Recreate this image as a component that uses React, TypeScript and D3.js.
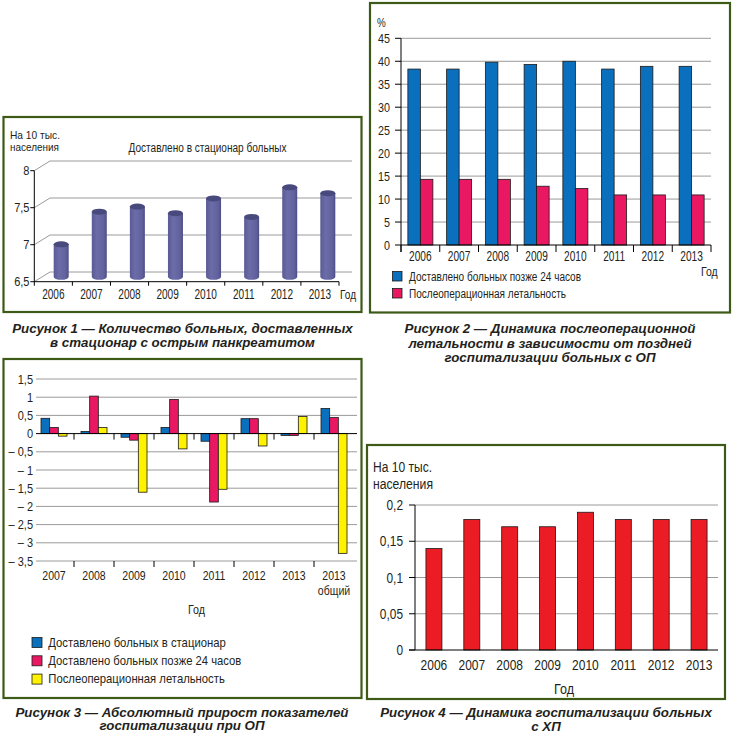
import React from 'react';
import * as d3 from 'd3';

// ---------- data ----------
const years = ['2006', '2007', '2008', '2009', '2010', '2011', '2012', '2013'];

// Fig 1: admitted to hospital, per 10 thousand
const fig1Values = [6.94, 7.38, 7.45, 7.36, 7.56, 7.31, 7.71, 7.63];
const fig1Ticks = [6.5, 7, 7.5, 8];

// Fig 2: %
const fig2Late = [38.3, 38.3, 39.8, 39.3, 40.0, 38.3, 38.9, 38.9];
const fig2Mortality = [14.3, 14.3, 14.3, 12.8, 12.3, 10.9, 10.9, 10.9];
const fig2Ticks = [0, 5, 10, 15, 20, 25, 30, 35, 40, 45];

// Fig 3: absolute growth
const fig3Categories = ['2007', '2008', '2009', '2010', '2011', '2012', '2013', '2013 общий'];
const fig3Admitted = [0.42, 0.06, -0.1, 0.17, -0.21, 0.41, -0.05, 0.69];
const fig3Late = [0.17, 1.03, -0.18, 0.94, -1.88, 0.41, -0.05, 0.44];
const fig3Mortality = [-0.07, 0.17, -1.61, -0.42, -1.53, -0.34, 0.47, -3.29];
const fig3Ticks = [1.5, 1, 0.5, 0, -0.5, -1, -1.5, -2, -2.5, -3, -3.5];

// Fig 4: chronic pancreatitis hospitalization, per 10 thousand
const fig4Values = [0.14, 0.18, 0.17, 0.17, 0.19, 0.18, 0.18, 0.18];
const fig4Ticks = [0, 0.05, 0.1, 0.15, 0.2];

// ---------- style ----------
const SANS = "'Liberation Sans',Arial,sans-serif";
const BORDER = '#3d5a17';
const GRID = '#9a9a9a';
const TXT = '#231f20';
const BLUE = '#0a6fbd';
const MAGENTA = '#ea1862';
const YELLOW = '#fff200';
const RED = '#ec1c24';

const fmt = (v: number) => {
  const s = String(Math.abs(v)).replace('.', ',');
  return v < 0 ? '– ' + s : s;
};

type TP = { x: number; y: number; s: number; sx?: number; a?: 'start' | 'middle' | 'end'; w?: number; dy?: string; children: React.ReactNode };
function T({ x, y, s, sx = 0.82, a = 'start', w, dy, children }: TP) {
  if (w) {
    return (
      <text x={x} y={y} dy={dy} fontSize={s} textAnchor={a} textLength={w} lengthAdjust="spacingAndGlyphs">{children}</text>
    );
  }
  return (
    <text transform={`translate(${x},${y}) scale(${sx},1)`} dy={dy} fontSize={s} textAnchor={a}>{children}</text>
  );
}

function Caption({ x, ys, lines }: { x: number; ys: number[]; lines: string[] }) {
  return (
    <g fontWeight="bold" fontStyle="italic" fontSize={13.3} fill={TXT} textAnchor="middle">
      {lines.map((l, i) => (
        <text key={i} x={x} y={ys[i]}>{l}</text>
      ))}
    </g>
  );
}

function Fig1() {
  const x = d3.scaleBand<string>().domain(years).range([34.3, 339]);
  const y = d3.scaleLinear().domain([6.5, 8]).range([281.7, 170.7]);
  const dx = 15.7, dy = -9.7;
  const bw = 15, ry = 3;
  const x0 = 34.3;
  return (
    <g fill={TXT}>
      <defs>
        <linearGradient id="cyl" x1="0" x2="1" y1="0" y2="0">
          <stop offset="0" stopColor="#5a5b95" />
          <stop offset="0.35" stopColor="#6c6da8" />
          <stop offset="0.8" stopColor="#61629d" />
          <stop offset="1" stopColor="#4d4e85" />
        </linearGradient>
      </defs>
      <rect x={3.5} y={117} width={358} height={195} fill="#fff" stroke={BORDER} strokeWidth={2.2} />
      <T x={10} y={138.5} s={11.5} w={50}>На 10 тыс.</T>
      <T x={10} y={151} s={11.5} w={49}>населения</T>
      <T x={128.5} y={152} s={12} w={158}>Доставлено в стационар больных</T>
      {fig1Ticks.map((t) => (
        <g key={t}>
          <line x1={x0} y1={y(t)} x2={x0 + dx} y2={y(t) + dy} stroke={GRID} />
          <line x1={x0 + dx} y1={y(t) + dy} x2={352} y2={y(t) + dy} stroke={GRID} />
          <line x1={x0 - 4} x2={x0} y1={y(t)} y2={y(t)} stroke="#000" />
          <T x={29.5} y={y(t)} dy="0.36em" a="end" s={13} sx={0.85}>{fmt(t)}</T>
        </g>
      ))}
      <line x1={x0} x2={x0} y1={y(8)} y2={y(6.5)} stroke="#000" />
      <line x1={x0} x2={339} y1={y(6.5)} y2={y(6.5)} stroke="#000" />
      {[...years.map((d) => x(d) as number), 339].map((bx, i) => (
        <line key={i} x1={bx} x2={bx} y1={y(6.5)} y2={y(6.5) + 4} stroke="#000" />
      ))}
      {years.map((d, i) => {
        const cx = (x(d) as number) + x.bandwidth() / 2 + dx / 2;
        const yb = y(6.5) + dy / 2;
        const yt = y(fig1Values[i]) + dy / 2;
        const l = cx - bw / 2, r = cx + bw / 2;
        return (
          <g key={d}>
            <path d={`M${l},${yt} L${l},${yb} A${bw / 2},${ry} 0 0 0 ${r},${yb} L${r},${yt} Z`} fill="url(#cyl)" />
            <ellipse cx={cx} cy={yt} rx={bw / 2} ry={ry} fill="#48497c" />
          </g>
        );
      })}
      {years.map((d) => (
        <T key={d} x={(x(d) as number) + x.bandwidth() / 2} y={298.5} a="middle" s={14} sx={0.72}>{d}</T>
      ))}
      <T x={340} y={298.5} s={12} w={16}>Год</T>
      <Caption x={182.5} ys={[333, 347]} lines={['Рисунок 1 — Количество больных, доставленных', 'в стационар с острым панкреатитом']} />
    </g>
  );
}

function Fig2() {
  const x = d3.scaleBand<string>().domain(years).range([401, 711]);
  const y = d3.scaleLinear().domain([0, 45]).range([245, 38.3]);
  const inner = d3.scaleBand<string>().domain(['late', 'mort']).range([0, 25]);
  const off = (x.bandwidth() - 25) / 2;
  return (
    <g fill={TXT}>
      <rect x={370} y={3} width={360} height={309.5} fill="#fff" stroke={BORDER} strokeWidth={2.2} />
      <T x={377} y={27} s={12}>%</T>
      {fig2Ticks.map((t) => (
        <g key={t}>
          {t > 0 && <line x1={401} x2={711} y1={y(t)} y2={y(t)} stroke={GRID} />}
          <line x1={395} x2={401} y1={y(t)} y2={y(t)} stroke="#000" />
          <T x={390} y={y(t)} dy="0.36em" a="end" s={12.5} sx={0.86}>{t}</T>
        </g>
      ))}
      {years.map((d, i) => (
        <g key={d}>
          <rect x={(x(d) as number) + off + (inner('late') as number)} y={y(fig2Late[i])} width={inner.bandwidth()} height={y(0) - y(fig2Late[i])} fill={BLUE} stroke="#1a1a1a" strokeWidth={0.8} />
          <rect x={(x(d) as number) + off + (inner('mort') as number)} y={y(fig2Mortality[i])} width={inner.bandwidth()} height={y(0) - y(fig2Mortality[i])} fill={MAGENTA} stroke="#1a1a1a" strokeWidth={0.8} />
        </g>
      ))}
      <line x1={401} x2={401} y1={y(45)} y2={252} stroke="#000" />
      <line x1={401} x2={711} y1={y(0)} y2={y(0)} stroke="#000" />
      {[...years.map((d) => x(d) as number), 711].map((bx, i) => (
        <line key={i} x1={bx} x2={bx} y1={y(0)} y2={252} stroke="#000" />
      ))}
      {years.map((d) => (
        <T key={d} x={(x(d) as number) + x.bandwidth() / 2} y={260.5} a="middle" s={14.5} sx={0.7}>{d}</T>
      ))}
      <T x={701} y={275.5} s={13} w={16.7}>Год</T>
      <rect x={392.5} y={271.5} width={9.5} height={9.5} fill={BLUE} stroke="#1a1a1a" strokeWidth={0.8} />
      <T x={409} y={280.5} s={12} w={172}>Доставлено больных позже 24 часов</T>
      <rect x={392.5} y={288.5} width={9.5} height={9.5} fill={MAGENTA} stroke="#1a1a1a" strokeWidth={0.8} />
      <T x={409} y={297.5} s={12} w={157}>Послеоперационная летальность</T>
      <Caption x={550} ys={[333, 347.5, 362]} lines={['Рисунок 2 — Динамика послеоперационной', 'летальности в зависимости от поздней', 'госпитализации больных с ОП']} />
    </g>
  );
}

function Fig3() {
  const x = d3.scaleBand<string>().domain(fig3Categories).range([34, 354]);
  const y = d3.scaleLinear().domain([-3.5, 1.5]).range([561, 379]);
  const keys = ['a', 'b', 'c'];
  const inner = d3.scaleBand<string>().domain(keys).range([0, 26]);
  const off = (x.bandwidth() - 26) / 2;
  const series = [
    { k: 'a', vals: fig3Admitted, color: BLUE },
    { k: 'b', vals: fig3Late, color: MAGENTA },
    { k: 'c', vals: fig3Mortality, color: YELLOW },
  ];
  const inner7 = fig3Categories.slice(1).map((c) => x(c) as number);
  const legend = [
    { c: BLUE, t: 'Доставлено больных в стационар', w: 177.5 },
    { c: MAGENTA, t: 'Доставлено больных позже 24 часов', w: 193 },
    { c: YELLOW, t: 'Послеоперационная летальность', w: 176.5 },
  ];
  return (
    <g fill={TXT}>
      <rect x={3.5} y={359} width={358} height={339} fill="#fff" stroke={BORDER} strokeWidth={2.2} />
      {fig3Ticks.map((t) => (
        <g key={t}>
          {t !== 0 && <line x1={36} x2={357} y1={y(t)} y2={y(t)} stroke={GRID} />}
          <T x={33} y={y(t)} dy="0.36em" a="end" s={12.5} sx={0.88}>{fmt(t)}</T>
        </g>
      ))}
      {fig3Categories.map((c, i) => (
        <g key={c}>
          {series.map((s) => {
            const v = s.vals[i];
            return (
              <rect key={s.k} x={(x(c) as number) + off + (inner(s.k) as number)} y={Math.min(y(v), y(0))} width={inner.bandwidth()} height={Math.abs(y(v) - y(0))} fill={s.color} stroke="#1a1a1a" strokeWidth={0.8} />
            );
          })}
        </g>
      ))}
      <line x1={36} x2={357} y1={y(0)} y2={y(0)} stroke="#000" />
      {inner7.map((bx, i) => (
        <g key={i}>
          <line x1={bx} x2={bx} y1={y(0)} y2={y(0) + 6} stroke="#000" />
          <line x1={bx} x2={bx} y1={y(-3.5)} y2={y(-3.5) + 6} stroke="#000" />
        </g>
      ))}
      {fig3Categories.map((c) => {
        const cx = (x(c) as number) + x.bandwidth() / 2;
        const parts = c.split(' ');
        return (
          <g key={c}>
            <T x={cx} y={580} a="middle" s={13.5} sx={0.78}>{parts[0]}</T>
            {parts[1] && <T x={cx} y={595} a="middle" s={13.5} sx={0.78}>{parts[1]}</T>}
          </g>
        );
      })}
      <T x={188} y={614} s={13} w={17}>Год</T>
      {legend.map((l, i) => (
        <g key={i}>
          <rect x={32} y={637.5 + i * 18.3} width={10} height={10} fill={l.c} stroke="#1a1a1a" strokeWidth={0.8} />
          <T x={48.3} y={646.5 + i * 18.3} s={13} w={l.w}>{l.t}</T>
        </g>
      ))}
      <Caption x={182} ys={[716.5, 730]} lines={['Рисунок 3 — Абсолютный прирост показателей', 'госпитализации при ОП']} />
    </g>
  );
}

function Fig4() {
  const x = d3.scaleBand<string>().domain(years).range([415, 718]);
  const y = d3.scaleLinear().domain([0, 0.2]).range([650, 505]);
  const bw = 16;
  const off = (x.bandwidth() - bw) / 2;
  return (
    <g fill={TXT}>
      <rect x={367} y={445} width={358} height={254} fill="#fff" stroke={BORDER} strokeWidth={2.2} />
      <T x={373} y={471.5} s={14} w={59}>На 10 тыс.</T>
      <T x={373} y={489} s={14} w={60}>населения</T>
      {fig4Ticks.map((t) => (
        <g key={t}>
          {t > 0 && <line x1={415} x2={718} y1={y(t)} y2={y(t)} stroke={GRID} />}
          <line x1={409} x2={415} y1={y(t)} y2={y(t)} stroke="#000" />
          <T x={403} y={y(t)} dy="0.36em" a="end" s={14.5} sx={0.82}>{fmt(t)}</T>
        </g>
      ))}
      {years.map((d, i) => (
        <rect key={d} x={(x(d) as number) + off} y={y(fig4Values[i])} width={bw} height={y(0) - y(fig4Values[i])} fill={RED} stroke="#1a1a1a" strokeWidth={0.8} />
      ))}
      <line x1={415} x2={415} y1={y(0.2)} y2={y(0)} stroke="#000" />
      <line x1={409} x2={718} y1={y(0)} y2={y(0)} stroke="#000" />
      {years.map((d) => (
        <T key={d} x={(x(d) as number) + x.bandwidth() / 2} y={670} a="middle" s={15} sx={0.8}>{d}</T>
      ))}
      <T x={564} y={694} a="middle" s={14.5} w={20}>Год</T>
      <Caption x={546} ys={[716.8, 730.6]} lines={['Рисунок 4 — Динамика госпитализации больных', 'с ХП']} />
    </g>
  );
}

export default function App() {
  return (
    <svg width={733} height={740} viewBox="0 0 733 740" fontFamily={SANS} style={{ position: 'absolute', left: 0, top: 0, background: '#fff' }}>
      <rect x={0} y={0} width={733} height={740} fill="#fff" />
      <Fig1 />
      <Fig2 />
      <Fig3 />
      <Fig4 />
    </svg>
  );
}
